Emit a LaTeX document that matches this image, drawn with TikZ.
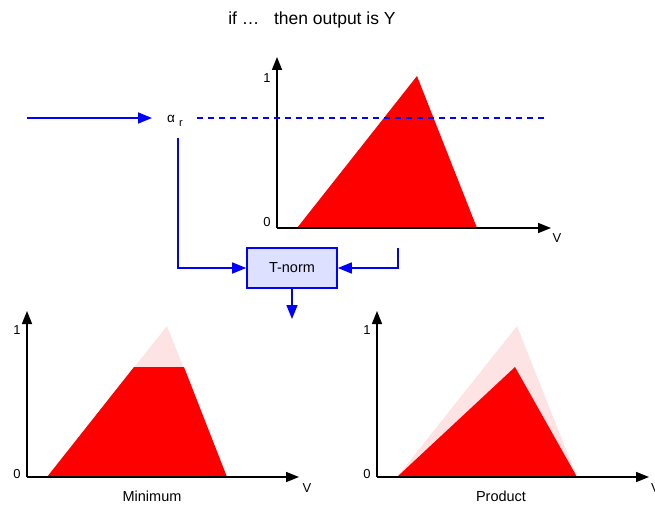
\documentclass[tikz,border=0pt]{standalone}
\usepackage{fontspec}
\setmainfont{Liberation Sans}
\usetikzlibrary{arrows.meta}
\definecolor{pinkish}{HTML}{FDE3E3}
\definecolor{boxfill}{HTML}{DDE0FF}
\tikzset{
  axis/.style={line width=1.6pt,-{Triangle[length=13pt,width=10pt]}},
  bline/.style={blue,line width=1.6pt},
  barrow/.style={bline,-{Triangle[length=14pt,width=11pt]}},
  lbl/.style={inner sep=0pt,font=\fontsize{13}{13}\selectfont},
  wlbl/.style={inner sep=0pt,font=\fontsize{14.5}{14.5}\selectfont},
}
\begin{document}
\begin{tikzpicture}[x=1pt,y=-1pt]
\useasboundingbox (0,0) rectangle (655,508);
% title
\node[inner sep=0pt,font=\fontsize{17.5}{17.5}\selectfont] (title) at (312,20) {if …\ \ \ then output is Y};
% top graph
\coordinate (o1) at (277,228);
\coordinate (y1) at (277,57);
\coordinate (x1) at (551,228);
\fill[red] (297,228) -- (417,76) -- (477,228) -- cycle;
\draw[axis] (o1) -- (y1);
\draw[axis] (o1) -- (x1);
\node[lbl] (one1) at (267,78) {1};
\node[lbl] (zero1) at (267,222) {0};
\node[lbl] (v1) at (557,238) {V};
% alpha
\node[inner sep=0pt,anchor=base west,font=\fontsize{13.5}{13.5}\selectfont] (alpha) at (167,122) {α\hspace{4pt}\raisebox{-4pt}{\fontsize{11}{11}\selectfont r}};
\coordinate (in) at (27,118);
\coordinate (tipend) at ([xshift=-15pt]in -| alpha.west);
\draw[barrow] (in) -- (tipend);
\coordinate (dashend) at (548,118);
\draw[blue,line width=1.4pt,dash pattern=on 6pt off 5pt] (197,118) -- (dashend);
% T-norm
\node[draw=blue,line width=1.6pt,fill=boxfill,minimum width=90pt,minimum height=40pt,inner sep=0pt,font=\fontsize{14.5}{14.5}\selectfont] (tnorm) at (292,268) {T-norm};
\coordinate (a1) at (178,138);
\coordinate (r1) at (398,248);
\draw[barrow] (a1) |- (tnorm.west);
\draw[barrow] (r1) |- (tnorm.east);
\coordinate (down) at (292,319);
\draw[barrow] (tnorm.south) -- (down);
% bottom left graph
\coordinate (o2) at (27,477);
\coordinate (y2) at (27,311);
\coordinate (x2) at (299,477);
\fill[pinkish] (47,477) -- (167,326) -- (227,477) -- cycle;
\fill[red] (47,477) -- (134,367) -- (184,367) -- (227,477) -- cycle;
\draw[axis] (o2) -- (y2);
\draw[axis] (o2) -- (x2);
\node[lbl] (one2) at (17,330) {1};
\node[lbl] (zero2) at (17,474) {0};
\node[lbl] (v2) at (307,488) {V};
\node[wlbl] (minlbl) at (152,496) {Minimum};
% bottom right graph
\coordinate (o3) at (377,477);
\coordinate (y3) at (377,311);
\coordinate (x3) at (649,477);
\fill[pinkish] (397,477) -- (517,326) -- (577,477) -- cycle;
\fill[red] (397,477) -- (515,367) -- (577,477) -- cycle;
\draw[axis] (o3) -- (y3);
\draw[axis] (o3) -- (x3);
\node[lbl] (one3) at (367,330) {1};
\node[lbl] (zero3) at (367,474) {0};
\node[lbl,anchor=west] (v3) at (651,488) {V};
\node[wlbl] (prodlbl) at (501,496) {Product};
\end{tikzpicture}
\end{document}
